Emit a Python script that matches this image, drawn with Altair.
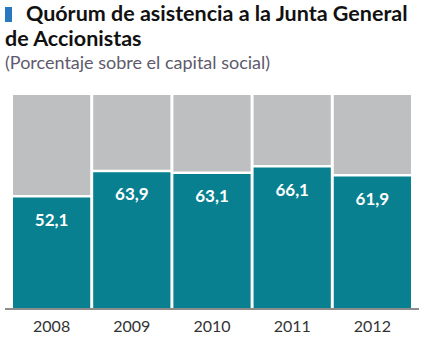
import altair as alt
import pandas as pd

years = ["2008", "2009", "2010", "2011", "2012"]
quorum = [52.1, 63.9, 63.1, 66.1, 61.9]
total = [100, 100, 100, 100, 100]

df = pd.DataFrame({"year": years, "value": quorum, "total": total})

TEAL = "#08808f"
GRAY = "#bebfc1"

x = alt.X("year:N", title=None,
          scale=alt.Scale(paddingInner=0.037, paddingOuter=0),
          axis=alt.Axis(labelAngle=0, ticks=False, domain=False, labelPadding=9,
                        labelFont="Lato", labelFontSize=16, labelColor="#333333"))
yscale = alt.Scale(domain=[0, 100], nice=False, zero=True)

base = alt.Chart(df)

gray = base.mark_bar(color=GRAY, yOffset=-2.5).encode(
    x=x,
    y=alt.Y("value:Q", scale=yscale, axis=None),
    y2="total:Q",
)

teal = base.mark_bar(color=TEAL).encode(
    x=x,
    y=alt.Y("value:Q", scale=yscale, axis=None),
    y2=alt.datum(0),
)

labels = base.transform_calculate(
    lab="replace(format(datum.value, '.1f'), '.', ',')"
).mark_text(color="white", font="Lato", fontWeight="bold", fontSize=17,
            baseline="middle", dy=23).encode(
    x=x,
    y=alt.Y("value:Q", scale=yscale, axis=None),
    text="lab:N",
)

baseline_rule = base.mark_rule(color="#8c8c8c", strokeWidth=1.5).encode(
    x=alt.value(-8), x2=alt.value(406), y=alt.value(214)
)

marker = base.mark_rect(color="#2a78bf").encode(
    x=alt.value(-8), x2=alt.value(-1), y=alt.value(-88), y2=alt.value(-73)
)

chart = alt.layer(gray, teal, labels, baseline_rule, marker).properties(
    width=398,
    height=214,
    autosize=alt.AutoSizeParams(type="none"),
    padding={"left": 13, "top": 95, "right": 18, "bottom": 31},
    title=alt.TitleParams(
        text=["\u200b\u00a0\u00a0\u00a0\u00a0Quórum de asistencia a la Junta General", "de Accionistas"],
        subtitle="(Porcentaje sobre el capital social)",
        anchor="start", frame="group", dx=-8, dy=82, offset=16,
        font="Lato", fontSize=21.5, fontWeight="bold", color="#111111", lineHeight=25,
        subtitleFont="Lato", subtitleFontSize=18, subtitleColor="#5e5a6c",
        subtitlePadding=5,
    ),
).configure_view(stroke=None)

chart.save("out.html", embed_options={"renderer": "svg", "actions": False})
